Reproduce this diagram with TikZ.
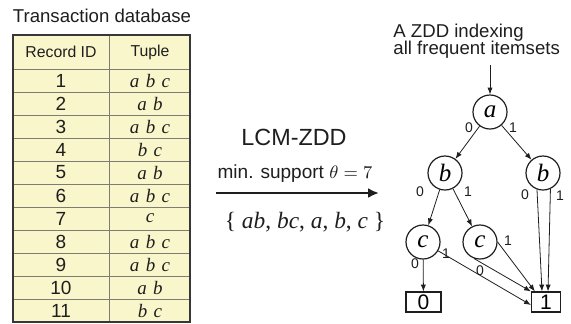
\documentclass[tikz,border=0pt]{standalone}
\usepackage{fontspec}
\setmainfont{Liberation Sans}
\newfontfamily\tms{Liberation Serif}
\usetikzlibrary{arrows.meta,positioning}
\definecolor{tblfill}{RGB}{250,246,204}
\definecolor{tblline}{RGB}{125,125,115}
\definecolor{tblborder}{RGB}{55,55,55}
\definecolor{ink}{RGB}{30,30,30}

\begin{document}
\begin{tikzpicture}[x=0.5pt, y=-0.5pt, >=Latex,
    zddnode/.style={draw=ink, circle, line width=0.6pt, minimum size=17pt, inner sep=0pt,
      font=\tms\itshape\fontsize{12.5}{12.5}\selectfont},
    termnode/.style={draw=ink, rectangle, line width=0.6pt, minimum height=10pt, inner sep=0pt,
      font=\fontsize{10.5}{10.5}\selectfont},
    zddedge/.style={-{Latex[length=3.4pt,width=2.6pt]}, line width=0.4pt, draw=ink},
    elabel/.style={font=\fontsize{7}{7}\selectfont, inner sep=0pt, text=ink},
    cellid/.style={font=\fontsize{9.5}{9.5}\selectfont, text=ink},
    celltup/.style={font=\tms\itshape\fontsize{9.5}{9.5}\selectfont, text=ink}]
  \useasboundingbox (0,0) rectangle (571,323);

  % transaction table
  \node[font=\fontsize{9.3}{9.3}\selectfont, text=ink] (dbtitle) at (102,16) {Transaction database};
  \fill[tblfill] (13,35) rectangle (190,322);
  \foreach \k in {0,...,10}
    \draw[tblline, line width=0.4pt] (13,69+23*\k) -- (190,69+23*\k);
  \draw[tblline, line width=0.4pt] (109,35) -- (109,322);
  \draw[tblborder, line width=1pt] (13,35) rectangle (190,322);
  \node[font=\fontsize{7.9}{7.9}\selectfont, text=ink] (hid) at (61,52) {Record ID};
  \node[font=\fontsize{7.9}{7.9}\selectfont, text=ink] (htup) at (150,52) {Tuple};
  \foreach \tup [count=\k, evaluate=\k as \ry using 57.5+23*\k] in
      {a\,\,b\,\,c, a\,\,b, a\,\,b\,\,c, b\,\,c, a\,\,b, a\,\,b\,\,c, c,
       a\,\,b\,\,c, a\,\,b\,\,c, a\,\,b, b\,\,c} {
    \node[cellid] (id\k) at (61,\ry) {\k};
    \node[celltup] (tup\k) at (150,\ry) {\tup};
  }

  % mining step
  \coordinate (runS) at (216,193);
  \coordinate (runE) at (379,193);
  \draw[-{Latex[length=5.5pt,width=5pt]}, line width=1.3pt, draw=ink] (runS) -- (runE);
  \node[anchor=base, font=\fontsize{9.5}{9.5}\selectfont, text=ink] (minsup) at (295,178)
    {min. support $\theta = 7$};
  \node[font=\fontsize{11.7}{11.7}\selectfont, text=ink] (algo) at (294,137) {LCM-ZDD};
  \node[anchor=base, font=\tms\fontsize{11.7}{11.7}\selectfont, text=ink] (result) at (305,228)
    {\{ \textit{ab}, \textit{bc}, \textit{a}, \textit{b}, \textit{c} \}};

  % ZDD
  \node[anchor=north west, align=left, inner sep=0pt, text=ink,
    font=\fontsize{9.3}{11}\selectfont] (zddtitle) at (393,24)
    {A ZDD indexing\\[-2.6pt]all frequent itemsets};
  \coordinate (root) at (490,65);
  \node[zddnode] (a) at (490,112) {a};
  \node[zddnode] (bL) at (445,173) {b};
  \node[zddnode] (bR) at (543,173) {b};
  \node[zddnode] (cL) at (423,242) {c};
  \node[zddnode] (cR) at (480,242) {c};
  \node[termnode, minimum width=17.5pt] (t0) at (423.5,302) {0};
  \node[termnode, minimum width=14.5pt] (t1) at (546,302) {1};

  \draw[zddedge] (root) -- (a);
  \draw[zddedge] (a) -- (bL);
  \draw[zddedge] (a) -- (bR);
  \draw[zddedge] (bL) -- (cL);
  \draw[zddedge] (bL) -- (cR);
  \draw[zddedge] (bR.250) -- ([xshift=-2pt]t1.north);
  \draw[zddedge] (bR.295) -- ([xshift=1pt]t1.north);
  \draw[zddedge] (cL) -- (t0);
  \draw[zddedge] (cL) -- ([yshift=-1.5pt]t1.west);
  \draw[zddedge] (cR.250) -- (t1.north west);
  \draw[zddedge] (cR.east) -- ([xshift=2pt]t1.north west);

  % edge labels
  \node[elabel] (la0) at (469,128) {0};
  \node[elabel] (la1) at (513,128) {1};
  \node[elabel] (lb0) at (420,192) {0};
  \node[elabel] (lb1) at (468,192) {1};
  \node[elabel] (lbr0) at (525,195) {0};
  \node[elabel] (lbr1) at (560,196) {1};
  \node[elabel] (lcl0) at (415,264) {0};
  \node[elabel] (lcl1) at (446,254) {1};
  \node[elabel] (lcr0) at (480,271) {0};
  \node[elabel] (lcr1) at (508,241) {1};
\end{tikzpicture}
\end{document}
